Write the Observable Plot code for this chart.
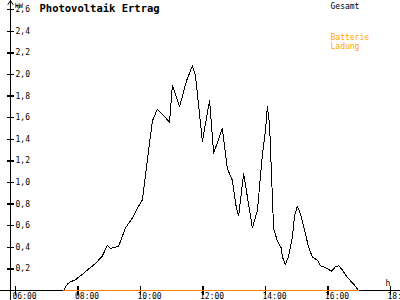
<!DOCTYPE html>
<html>
<head>
<meta charset="utf-8">
<script src="https://cdn.jsdelivr.net/npm/d3@7"></script>
<script src="https://cdn.jsdelivr.net/npm/@observablehq/plot@0.6"></script>
<style>
  html, body { margin: 0; padding: 0; background: #fff; }
  #chart svg { display: block; }
</style>
</head>
<body>
<div id="chart"></div>
<script>
// ---- data ----
const pvTimes = [7.54, 7.66, 7.76, 7.92, 8.14, 8.30, 8.56, 8.78, 8.94, 9.04, 9.30, 9.52, 9.74, 9.90,
  10.06, 10.38, 10.54, 10.93, 11.02, 11.25, 11.47, 11.66, 11.76, 11.98, 12.21, 12.34, 12.62, 12.78,
  12.88, 12.94, 13.07, 13.14, 13.30, 13.33, 13.58, 13.74, 13.90, 14.00, 14.06, 14.13, 14.26, 14.38,
  14.51, 14.54, 14.64, 14.74, 14.86, 14.93, 15.02, 15.12, 15.25, 15.38, 15.50, 15.66, 15.76, 15.92,
  16.11, 16.24, 16.34, 16.46, 16.62, 16.82, 16.98];
const pvKW = [0, 0.06, 0.08, 0.10, 0.15, 0.19, 0.25, 0.32, 0.42, 0.39, 0.41, 0.58, 0.67, 0.76,
  0.84, 1.57, 1.68, 1.56, 1.90, 1.70, 1.94, 2.08, 1.99, 1.38, 1.76, 1.27, 1.50, 1.13,
  1.06, 1.02, 0.76, 0.69, 1.08, 1.03, 0.58, 0.74, 1.25, 1.48, 1.70, 1.54, 0.57, 0.46,
  0.39, 0.31, 0.24, 0.32, 0.49, 0.69, 0.78, 0.71, 0.56, 0.40, 0.31, 0.28, 0.23, 0.21,
  0.18, 0.22, 0.23, 0.19, 0.12, 0.06, 0];
const batteryTimes = [7.54, 16.98];
const batteryKW = [0, 0];
const yTicks = [0.2, 0.4, 0.6, 0.8, 1.0, 1.2, 1.4, 1.6, 1.8, 2.0, 2.2, 2.4, 2.6];
const yTickLabels = ["0,2", "0,4", "0,6", "0,8", "1,0", "1,2", "1,4", "1,6", "1,8", "2,0", "2,2", "2,4", "2,6"];
const xTicks = [6, 8, 10, 12, 14, 16, 18];
const xTickLabels = ["06:00", "08:00", "10:00", "12:00", "14:00", "16:00", "18:00"];
const title = "Photovoltaik Ertrag";
const unitLabel = "kW";
const timeLabel = "h";
const seriesLabel = "Gesamt";
const batteryLabel = "Batterie\nLadung";

// ---- tables ----
const pv = pvTimes.map((t, i) => ({t, v: pvKW[i]}));
const battery = batteryTimes.map((t, i) => ({t, v: batteryKW[i]}));
const yTickRows = yTicks.map((v, i) => ({v, label: yTickLabels[i]}));
const xTickRows = xTicks.map((t, i) => ({t, label: xTickLabels[i]}));

const mono = "DejaVu Sans Mono, monospace";
const orangeText = "#ffa500";
const orangeLine = "#ff8000";

const lineShape = {draw(ctx, l) { ctx.moveTo(0, 0); ctx.lineTo(0, -l); }};
const axisArrow = {draw(ctx, l) {
  ctx.moveTo(0, 0); ctx.lineTo(0, -l);
  ctx.moveTo(-2.5, 4 - l); ctx.lineTo(0, -l); ctx.lineTo(2.5, 4 - l);
}};

const chart = Plot.plot({
  width: 400,
  height: 300,
  marginLeft: 0,
  marginRight: 0,
  marginTop: 0,
  marginBottom: 10,
  style: {background: "#fff", fontFamily: mono},
  x: {domain: [6, 18], range: [15, 390], axis: null},
  y: {domain: [0, 2.6], range: [290, 9.2], axis: null},
  marks: [
    // y axis line with arrow
    Plot.vector([0], {frameAnchor: "bottom-left", dx: 10, dy: 9, length: 299, rotate: 0,
      anchor: "start", shape: axisArrow, stroke: "black", strokeWidth: 1}),
    // x axis line
    Plot.ruleY([0], {stroke: "black", strokeWidth: 1, shapeRendering: "crispEdges"}),
    // y ticks
    Plot.vector(yTickRows, {y: "v", frameAnchor: "left", dx: 10, length: 6, rotate: 90,
      anchor: "middle", shape: lineShape, stroke: "black", shapeRendering: "crispEdges"}),
    Plot.text(yTickRows, {y: "v", text: "label", frameAnchor: "left", dx: 15, textAnchor: "start",
      fontSize: 8, fontFamily: mono, fill: "black"}),
    // x ticks
    Plot.vector(xTickRows, {x: "t", frameAnchor: "bottom", length: 7, rotate: 0,
      anchor: "middle", shape: lineShape, stroke: "black", shapeRendering: "crispEdges"}),
    Plot.text(xTickRows, {x: "t", text: "label", frameAnchor: "bottom", dx: -3, dy: 3,
      textAnchor: "start", lineAnchor: "top", fontSize: 8, fontFamily: mono, fill: "black"}),
    // series
    Plot.line(pv, {x: "t", y: "v", stroke: "black", strokeWidth: 1, shapeRendering: "crispEdges"}),
    Plot.line(battery, {x: "t", y: "v", stroke: orangeLine, strokeWidth: 1.2, shapeRendering: "crispEdges"}),
    // labels
    Plot.text([title], {frameAnchor: "top-left", dx: 39, dy: 11, lineAnchor: "bottom",
      textAnchor: "start", fontSize: 10.5, fontWeight: "bold", fontFamily: mono, fill: "black"}),
    Plot.text([unitLabel], {frameAnchor: "top-left", dx: 14, dy: 7, lineAnchor: "bottom",
      textAnchor: "start", fontSize: 7, fontFamily: mono, fill: "black"}),
    Plot.text([seriesLabel], {frameAnchor: "top-left", dx: 330, dy: 8, lineAnchor: "bottom",
      textAnchor: "start", fontSize: 8, fontFamily: mono, fill: "black"}),
    Plot.text([batteryLabel], {frameAnchor: "top-left", dx: 330, dy: 33, lineAnchor: "top",
      textAnchor: "start", fontSize: 8, lineHeight: 1.12, fontFamily: mono, fill: orangeText}),
    Plot.text([timeLabel], {frameAnchor: "top-left", dx: 385, dy: 285, lineAnchor: "bottom",
      textAnchor: "start", fontSize: 8, fontFamily: mono, fill: "black"})
  ]
});
document.getElementById("chart").appendChild(chart);
</script>
</body>
</html>
